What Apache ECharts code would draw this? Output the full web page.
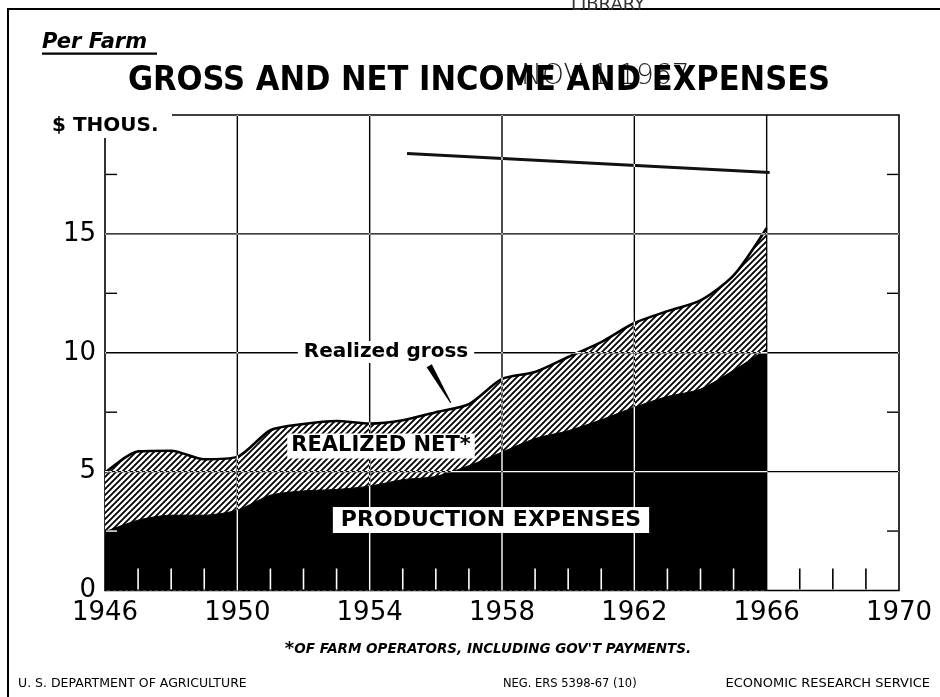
<!DOCTYPE html>
<html><head><meta charset="utf-8">
<script src="https://cdn.jsdelivr.net/npm/echarts@6/dist/echarts.min.js"></script>
<style>html,body{margin:0;padding:0;background:#fff}#c{width:940px;height:697px}</style>
</head><body><div id="c"></div>
<script>
// ---- data (thousand dollars per farm) ----
const years = [1946,1947,1948,1949,1950,1951,1952,1953,1954,1955,1956,1957,1958,1959,1960,1961,1962,1963,1964,1965,1966];
const realizedGross = [4.95,5.85,5.88,5.52,5.62,6.74,7.00,7.13,7.02,7.16,7.50,7.84,8.90,9.19,9.82,10.45,11.25,11.75,12.20,13.25,15.25];
const productionExpenses = [2.47,2.96,3.17,3.17,3.38,4.01,4.19,4.25,4.39,4.66,4.80,5.25,5.82,6.39,6.72,7.18,7.71,8.16,8.47,9.26,10.15];
const xMin = 1946, xMax = 1970, xStep = 4;
const yMin = 0, yMax = 20, yStep = 5;
const verticalGridYears = [1950,1954,1958,1962];
const edgeGridYears = [1966];
const horizontalGridValues = [5,10,15];
const minorTickYears = [1947,1948,1949,1951,1952,1953,1955,1956,1957,1959,1960,1961,1963,1964,1965,1967,1968,1969];
const minorTickValues = [2.5,7.5,12.5,17.5];
const stampLine = [[1955.13,18.38],[1966.09,17.58]];
const leaderLine = [[1955.8,9.45,1956.45,7.9]];

const FONT = '"DejaVu Sans", sans-serif';

function hatchCanvas(){
  const c = document.createElement('canvas'); c.width = 6; c.height = 6;
  const g = c.getContext('2d');
  g.fillStyle = '#fff'; g.fillRect(0,0,6,6);
  g.strokeStyle = '#000'; g.lineWidth = 1.8; g.lineCap = 'square';
  g.beginPath();
  g.moveTo(-1,7); g.lineTo(7,-1);
  g.moveTo(-1,1); g.lineTo(1,-1);
  g.moveTo(5,7); g.lineTo(7,5);
  g.stroke();
  return c;
}

function overlay(name, data, build, blend, z){
  return {type:'custom', name, data, blendMode:blend || 'difference', z:z || 5, silent:true, clip:false,
    renderItem:(params, api) => build(api)};
}
const W = {stroke:'#fff', lineWidth:1.4};

const chart = echarts.init(document.getElementById('c'), null, {renderer:'canvas'});
chart.setOption({
  backgroundColor:'#fff',
  animation:false,
  grid:{left:105, right:41, top:115, bottom:106.5, show:true, borderColor:'#000', borderWidth:1.6, backgroundColor:'transparent'},
  xAxis:{type:'value', min:xMin, max:xMax, interval:xStep,
    axisLine:{show:false}, axisTick:{show:false}, splitLine:{show:false},
    axisLabel:{color:'#000', fontFamily:FONT, fontSize:26, margin:10, formatter:v => String(v)}},
  yAxis:{type:'value', min:yMin, max:yMax, interval:yStep,
    axisLine:{show:false}, axisTick:{show:false}, splitLine:{show:false},
    axisLabel:{color:'#000', fontFamily:FONT, fontSize:26, margin:9, formatter:v => v === yMax ? '' : String(v)}},
  series:[
    {type:'line', name:'Realized gross', data:years.map((y,i)=>[y, realizedGross[i]]),
      symbol:'none', smooth:0.25, z:2,
      lineStyle:{color:'#000', width:2.6},
      areaStyle:{color:{image:hatchCanvas(), repeat:'repeat'}, opacity:1}},
    {type:'line', name:'Production expenses', data:years.map((y,i)=>[y, productionExpenses[i]]),
      symbol:'none', smooth:0.25, z:3,
      lineStyle:{color:'#000', width:1},
      areaStyle:{color:'#000', opacity:1}},
    {type:'line', name:'stamp', data:stampLine, symbol:'none', z:4,
      lineStyle:{color:'#111', width:3}},
    overlay('edgegrid', edgeGridYears.map(y=>[y,0]), api => {
      const a = api.coord([api.value(0), yMin]), b = api.coord([api.value(0), yMax]);
      return {type:'line', shape:{x1:a[0],y1:a[1],x2:b[0],y2:b[1]}, style:{stroke:'#000', lineWidth:1.4}};
    }, 'source-over', 4),
    overlay('vgrid', verticalGridYears.map(y=>[y,0]), api => {
      const a = api.coord([api.value(0), yMin]), b = api.coord([api.value(0), yMax]);
      return {type:'line', shape:{x1:a[0],y1:a[1],x2:b[0],y2:b[1]}, style:W};
    }),
    overlay('hgrid', horizontalGridValues.map(v=>[xMin,v]), api => {
      const a = api.coord([xMin, api.value(1)]), b = api.coord([xMax, api.value(1)]);
      return {type:'line', shape:{x1:a[0],y1:a[1],x2:b[0],y2:b[1]}, style:W};
    }),
    overlay('xminor', minorTickYears.map(y=>[y,0]), api => {
      const a = api.coord([api.value(0), yMin]);
      return {type:'line', shape:{x1:a[0],y1:a[1]-1,x2:a[0],y2:a[1]-22}, style:{stroke:'#fff', lineWidth:1.6}};
    }),
    overlay('yminor', minorTickValues.map(v=>[xMin,v]), api => {
      const a = api.coord([xMin, api.value(1)]), b = api.coord([xMax, api.value(1)]);
      return {type:'group', children:[
        {type:'line', shape:{x1:a[0]+1,y1:a[1],x2:a[0]+12,y2:a[1]}, style:W},
        {type:'line', shape:{x1:b[0]-1,y1:b[1],x2:b[0]-12,y2:b[1]}, style:W}
      ]};
    }),
    {type:'custom', name:'leader', data:leaderLine, z:6, silent:true, clip:false,
      renderItem:(params, api) => {
        const p = api.coord([api.value(0), api.value(1)]), q = api.coord([api.value(2), api.value(3)]);
        const dx = q[0]-p[0], dy = q[1]-p[1], L = Math.hypot(dx,dy);
        const nx = -dy/L, ny = dx/L, w0 = 3, w1 = 0.6;
        return {type:'polygon', shape:{points:[
          [p[0]+nx*w0, p[1]+ny*w0],[q[0]+nx*w1, q[1]+ny*w1],[q[0]-nx*w1, q[1]-ny*w1],[p[0]-nx*w0, p[1]-ny*w0]]},
          style:{fill:'#000'}};
      }}
  ],
  graphic:[
    {type:'rect', z:0, shape:{x:8, y:9, width:1000, height:1000}, style:{fill:'none', stroke:'#000', lineWidth:2}},
    {type:'text', z:1, x:608, y:5, style:{text:'LIBRARY', font:'18px ' + FONT, fill:'#333', align:'center', verticalAlign:'middle'}},
    {type:'text', z:50, x:42, y:43, style:{text:'Per Farm', font:'italic bold 21px ' + FONT, fill:'#000', align:'left', verticalAlign:'middle'}},
    {type:'rect', z:50, shape:{x:42, y:52.5, width:115, height:2.2}, style:{fill:'#000'}},
    {type:'text', z:49, x:521, y:77, style:{text:'NOV 1 1967', font:'200 28px ' + FONT, fill:'#222', align:'left', verticalAlign:'middle'}},
    {type:'text', z:50, x:479, y:81, style:{text:'GROSS AND NET INCOME AND EXPENSES', font:'bold 34px "DejaVu Sans Condensed", "DejaVu Sans", sans-serif', fill:'#000', align:'center', verticalAlign:'middle'}},
    {type:'rect', z:50, shape:{x:46, y:112, width:126, height:26}, style:{fill:'#fff'}},
    {type:'text', z:51, x:52, y:126, style:{text:'$ THOUS.', font:'bold 20px ' + FONT, fill:'#000', align:'left', verticalAlign:'middle'}},
    {type:'text', z:60, x:386, y:352, style:{text:'Realized gross', font:'bold 20px ' + FONT, fill:'#000', align:'center', verticalAlign:'middle', backgroundColor:'#fff', padding:[1,6,1,6]}},
    {type:'text', z:60, x:381, y:446, style:{text:'REALIZED NET*', font:'bold 21px ' + FONT, fill:'#000', align:'center', verticalAlign:'middle', backgroundColor:'#fff', padding:[2,4,2,4]}},
    {type:'text', z:60, x:491, y:520, style:{text:'PRODUCTION EXPENSES', font:'bold 22px ' + FONT, fill:'#000', align:'center', verticalAlign:'middle', backgroundColor:'#fff', padding:[2,8,2,8]}},
    {type:'text', z:60, x:488, y:649, style:{text:'{s|*}OF FARM OPERATORS, INCLUDING GOV\'T PAYMENTS.', font:'italic bold 13.5px ' + FONT, fill:'#000', align:'center', verticalAlign:'middle',
      rich:{s:{font:'bold 18px ' + FONT, fill:'#000', verticalAlign:'middle'}}}},
    {type:'text', z:60, x:18, y:684, style:{text:'U. S. DEPARTMENT OF AGRICULTURE', font:'12.5px ' + FONT, fill:'#000', align:'left', verticalAlign:'middle'}},
    {type:'text', z:60, x:503, y:684, style:{text:'NEG. ERS 5398-67 (10)', font:'11.5px ' + FONT, fill:'#000', align:'left', verticalAlign:'middle'}},
    {type:'text', z:60, x:930, y:684, style:{text:'ECONOMIC RESEARCH SERVICE', font:'13px ' + FONT, fill:'#000', align:'right', verticalAlign:'middle'}}
  ]
});
</script></body></html>
